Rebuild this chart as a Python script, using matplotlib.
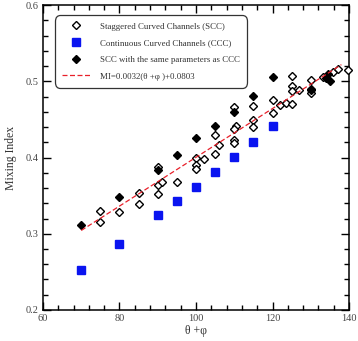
import matplotlib
matplotlib.use("Agg")
import matplotlib.pyplot as plt
import numpy as np
from matplotlib.ticker import MultipleLocator

plt.rcParams['font.family'] = ['Liberation Serif', 'DejaVu Serif']

# SCC (open diamonds)
scc_x = [75, 75, 80, 85, 85, 90, 90, 90, 91, 95, 100, 100, 100, 102, 105, 105, 106,
         110, 110.5, 110, 110, 110, 115, 115, 115, 120, 120, 122, 123.5, 125, 125,
         125, 125, 127, 130, 130, 130, 133.3, 135.7, 137, 139.6]
scc_y = [0.330, 0.316, 0.328, 0.353, 0.339, 0.352, 0.364, 0.387, 0.368, 0.368, 0.400,
         0.390, 0.385, 0.398, 0.429, 0.404, 0.417, 0.4665, 0.4415, 0.438, 0.4235,
         0.4185, 0.468, 0.449, 0.440, 0.475, 0.459, 0.469, 0.471, 0.470, 0.507,
         0.494, 0.487, 0.488, 0.502, 0.490, 0.485, 0.506, 0.512, 0.516, 0.515]

# CCC (blue squares)
ccc_x = [70, 80, 90, 95, 100, 105, 110, 115, 120]
ccc_y = [0.252, 0.287, 0.324, 0.343, 0.362, 0.381, 0.401, 0.421, 0.441]

# SCC with same parameters as CCC (black diamonds)
same_x = [70, 80, 90, 95, 100, 105, 110, 115, 120, 130, 134, 134.6, 135]
same_y = [0.311, 0.348, 0.384, 0.403, 0.426, 0.441, 0.460, 0.481, 0.506, 0.488,
          0.505, 0.510, 0.501]

# fit
slope, intercept = 0.0032, 0.0803
fit_range = [70, 138]

fig = plt.figure(figsize=(3.58, 3.41), dpi=100)
ax = fig.add_axes([0.120, 0.091, 0.855, 0.894])

ax.plot(scc_x, scc_y, linestyle='none', marker='D', markersize=4.3,
        markerfacecolor='white', markeredgecolor='black', markeredgewidth=1.0,
        label='Staggered Curved Channels (SCC)', zorder=3, clip_on=False)
ax.plot(ccc_x, ccc_y, linestyle='none', marker='s', markersize=5.5,
        markerfacecolor='#0a14f0', markeredgecolor='#0a14f0',
        label='Continuous Curved Channels (CCC)', zorder=3)
ax.plot(same_x, same_y, linestyle='none', marker='D', markersize=4.3,
        markerfacecolor='black', markeredgecolor='black',
        label='SCC with the same parameters as CCC', zorder=4)
fx = np.array(fit_range, dtype=float)
ax.plot(fx, slope * fx + intercept, linestyle=(0, (4, 2)), color='#e8202a',
        linewidth=0.9, label='MI=0.0032(θ +φ )+0.0803', zorder=5)

ax.set_xlim(60, 140)
ax.set_ylim(0.2, 0.6)
ax.xaxis.set_major_locator(MultipleLocator(20))
ax.xaxis.set_minor_locator(MultipleLocator(4))
ax.yaxis.set_major_locator(MultipleLocator(0.1))
ax.yaxis.set_minor_locator(MultipleLocator(0.02))
ax.tick_params(which='both', direction='in', top=True, right=True,
               labelsize=7.5, labelcolor='#444444', pad=3)
ax.tick_params(which='major', length=6, width=1.0)
ax.tick_params(which='minor', length=3.5, width=1.0)
for s in ax.spines.values():
    s.set_linewidth(1.1)

ax.set_xlabel('θ +φ', fontsize=8.5, color='#333333', labelpad=1)
ax.set_ylabel('Mixing Index', fontsize=8.5, color='#333333', labelpad=6)

leg = ax.legend(loc='upper left', bbox_to_anchor=(0.039, 0.967), fontsize=6.4,
                frameon=True, fancybox=True, edgecolor='black',
                handlelength=3.2, handletextpad=1.1, labelspacing=0.95,
                borderpad=0.8, borderaxespad=0.0)
leg.get_frame().set_linewidth(0.9)
leg.get_frame().set_boxstyle('round', pad=0.0, rounding_size=0.6)
for t in leg.get_texts():
    t.set_color('#333333')

fig.savefig('out.png', dpi=100)
